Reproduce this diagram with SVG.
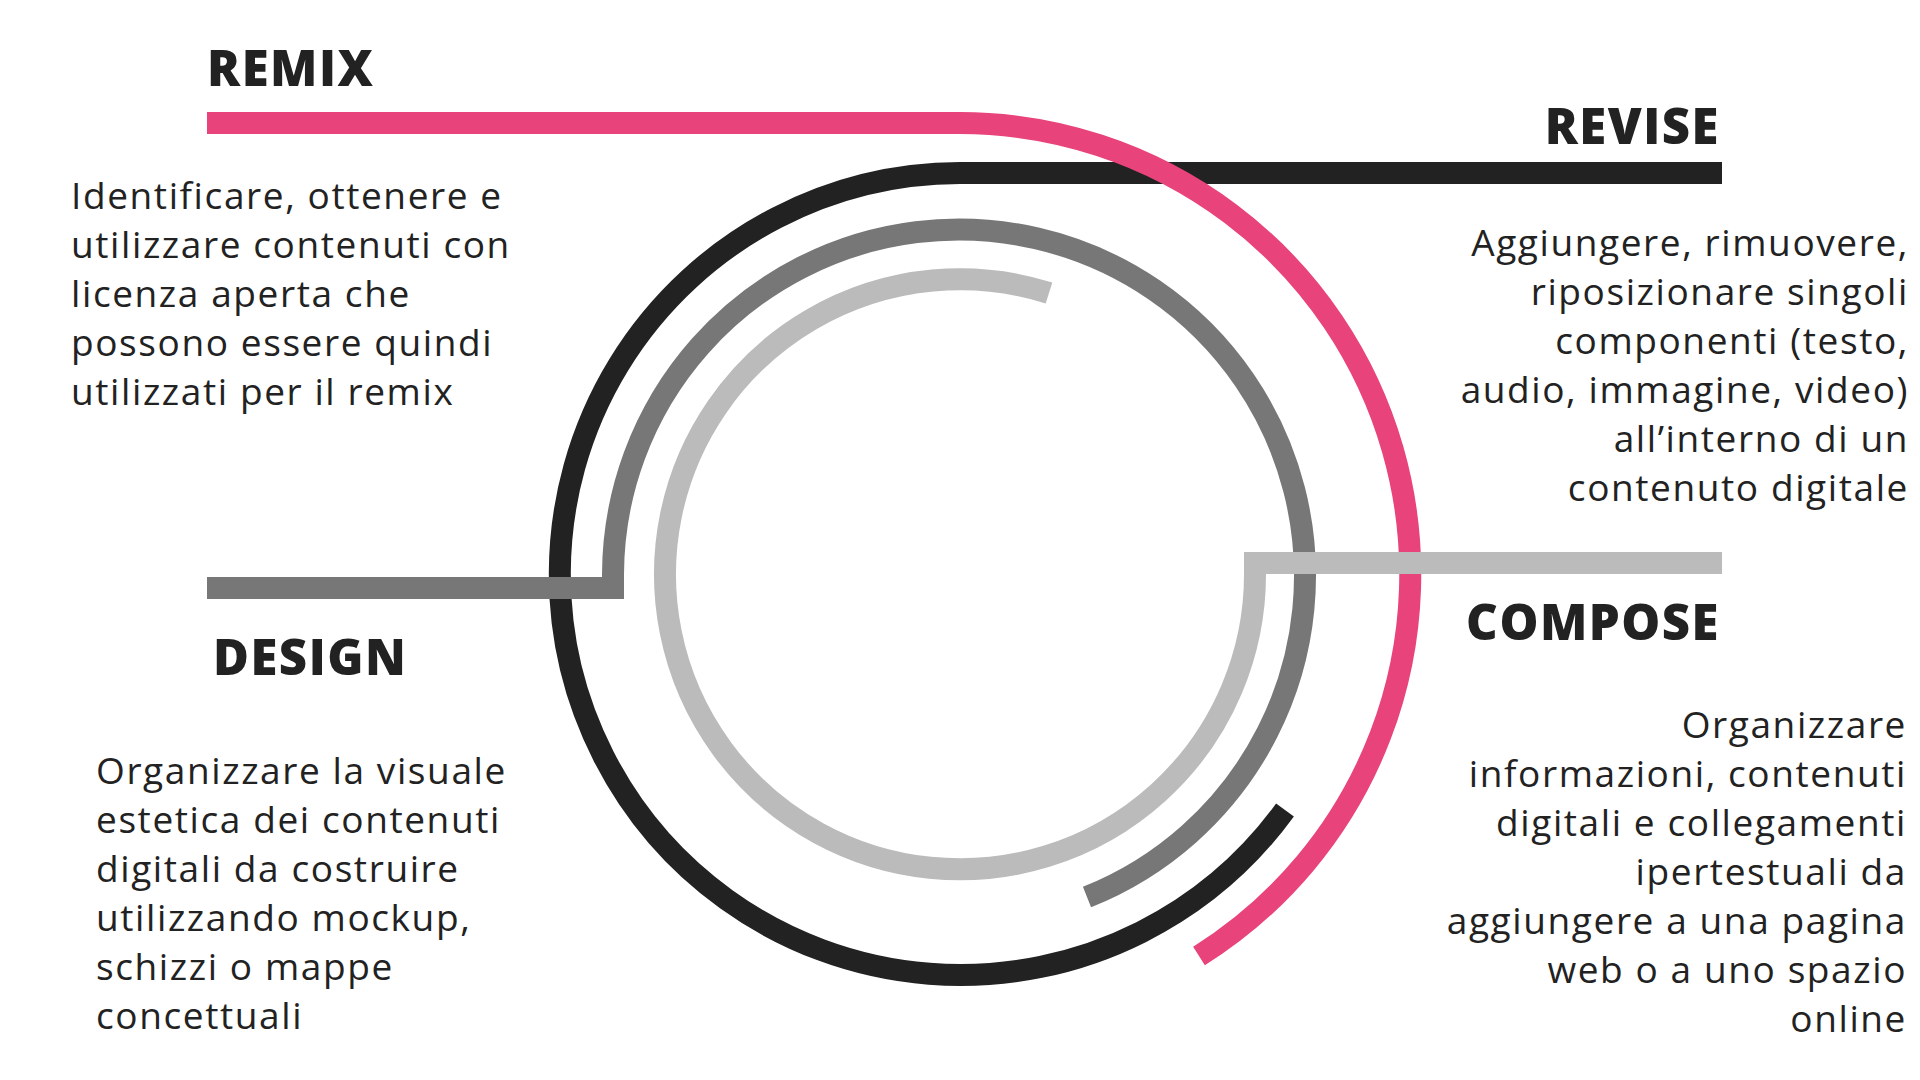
<svg xmlns="http://www.w3.org/2000/svg" width="1920" height="1080" viewBox="0 0 1920 1080">
<style>
.t{font-family:"Open Sans","DejaVu Sans",sans-serif;font-weight:800;font-size:49px;letter-spacing:1.5px;fill:#222}
.b{font-family:"Open Sans","DejaVu Sans",sans-serif;font-size:37px;letter-spacing:1.6px;fill:#222}
.r{text-anchor:end}
path{fill:none;stroke-width:22;stroke-linecap:butt;stroke-linejoin:miter}
</style>
<rect width="1920" height="1080" fill="#fff"/>
<g id="connectors">
<path d="M1722,173 H960 A401,401 0 1 0 1285,810" stroke="#222"/>
<path d="M207,123 H960 A451,451 0 0 1 1199,956" stroke="#E8437A"/>
<path d="M207,588 H613 V574 A346,346 0 1 1 1087,897" stroke="#777"/>
<path d="M1722,563 H1255 V574 A295,295 0 1 1 1049,293" stroke="#bbb"/>
</g>
<g id="remix">
<text class="t" x="207" y="86">REMIX</text>
<text class="b"><tspan x="71" y="209">Identificare, ottenere e</tspan><tspan x="71" y="258">utilizzare contenuti con</tspan><tspan x="71" y="307">licenza aperta che</tspan><tspan x="71" y="356">possono essere quindi</tspan><tspan x="71" y="405">utilizzati per il remix</tspan></text>
</g>
<g id="revise">
<text class="t r" x="1720" y="144">REVISE</text>
<text class="b r"><tspan x="1909" y="256">Aggiungere, rimuovere,</tspan><tspan x="1909" y="305">riposizionare singoli</tspan><tspan x="1909" y="354">componenti (testo,</tspan><tspan x="1909" y="403">audio, immagine, video)</tspan><tspan x="1909" y="452">all’interno di un</tspan><tspan x="1909" y="501">contenuto digitale</tspan></text>
</g>
<g id="design">
<text class="t" x="213" y="675">DESIGN</text>
<text class="b"><tspan x="96" y="784">Organizzare la visuale</tspan><tspan x="96" y="833">estetica dei contenuti</tspan><tspan x="96" y="882">digitali da costruire</tspan><tspan x="96" y="931">utilizzando mockup,</tspan><tspan x="96" y="980">schizzi o mappe</tspan><tspan x="96" y="1029">concettuali</tspan></text>
</g>
<g id="compose">
<text class="t r" x="1720" y="640">COMPOSE</text>
<text class="b r"><tspan x="1907" y="738">Organizzare</tspan><tspan x="1907" y="787">informazioni, contenuti</tspan><tspan x="1907" y="836">digitali e collegamenti</tspan><tspan x="1907" y="885">ipertestuali da</tspan><tspan x="1907" y="934">aggiungere a una pagina</tspan><tspan x="1907" y="983">web o a uno spazio</tspan><tspan x="1907" y="1032">online</tspan></text>
</g>
</svg>
